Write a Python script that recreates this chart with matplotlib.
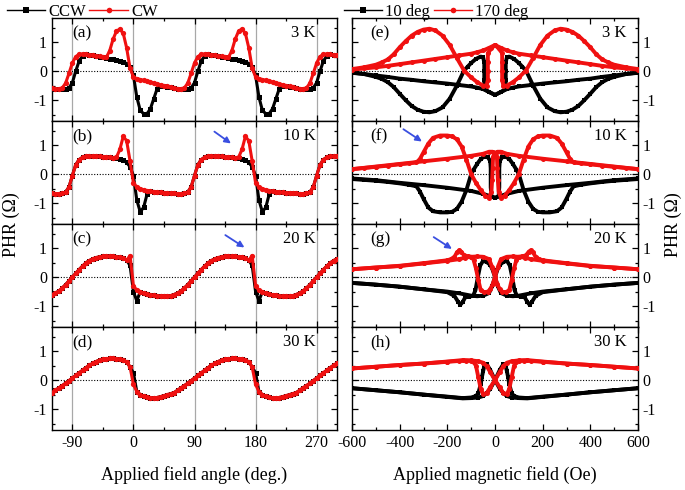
import numpy as np
import matplotlib.pyplot as plt
from matplotlib.ticker import MultipleLocator
from matplotlib.lines import Line2D

plt.rcParams['font.family'] = ['Liberation Serif', 'DejaVu Serif']
plt.rcParams['axes.unicode_minus'] = False

# ---------------- data: angle sweeps (left column) ----------------
angle = np.arange(-120, 305, 5)

ccw_a = [-0.58, -0.60, -0.61, -0.62, -0.62, -0.58, -0.40, 0.00, 0.35, 0.52, 0.58, 0.57, 0.55, 0.53, 0.50, 0.47, 0.45, 0.43,
         0.41, 0.38, 0.35, 0.32, 0.26, 0.14, -0.15, -0.90, -1.35, -1.47, -1.47, -1.30, -0.95, -0.60, -0.50, -0.52, -0.54, -0.56,
         -0.58, -0.60, -0.61, -0.62, -0.62, -0.58, -0.40, 0.00, 0.35, 0.52, 0.58, 0.57, 0.55, 0.53, 0.50, 0.47, 0.45, 0.43,
         0.41, 0.38, 0.35, 0.32, 0.26, 0.14, -0.15, -0.90, -1.35, -1.47, -1.47, -1.30, -0.95, -0.60, -0.50, -0.52, -0.54, -0.56,
         -0.58, -0.60, -0.61, -0.62, -0.62, -0.58, -0.40, 0.00, 0.35, 0.52, 0.58, 0.57, 0.55]
cw_a = [-0.58, -0.60, -0.62, -0.58, -0.42, -0.08, 0.28, 0.50, 0.58, 0.59, 0.58, 0.57, 0.55, 0.53, 0.51, 0.49, 0.47, 0.70,
        1.10, 1.38, 1.45, 1.30, 0.80, 0.10, -0.20, -0.26, -0.29, -0.32, -0.35, -0.38, -0.41, -0.44, -0.47, -0.50, -0.53, -0.56,
        -0.58, -0.60, -0.62, -0.58, -0.42, -0.08, 0.28, 0.50, 0.58, 0.59, 0.58, 0.57, 0.55, 0.53, 0.51, 0.49, 0.47, 0.70,
        1.10, 1.38, 1.45, 1.30, 0.80, 0.10, -0.20, -0.26, -0.29, -0.32, -0.35, -0.38, -0.41, -0.44, -0.47, -0.50, -0.53, -0.56,
        -0.58, -0.60, -0.62, -0.58, -0.42, -0.08, 0.28, 0.50, 0.58, 0.59, 0.58, 0.57, 0.55]

ccw_b = [-0.66, -0.67, -0.67, -0.66, -0.62, -0.45, -0.05, 0.32, 0.50, 0.58, 0.61, 0.62, 0.62, 0.62, 0.61, 0.60, 0.59, 0.58,
         0.56, 0.54, 0.51, 0.47, 0.40, 0.25, -0.05, -0.90, -1.30, -1.15, -0.70, -0.58, -0.60, -0.62, -0.63, -0.64, -0.65, -0.66,
         -0.66, -0.67, -0.67, -0.66, -0.62, -0.45, -0.05, 0.32, 0.50, 0.58, 0.61, 0.62, 0.62, 0.62, 0.61, 0.60, 0.59, 0.58,
         0.56, 0.54, 0.51, 0.47, 0.40, 0.25, -0.05, -0.90, -1.30, -1.15, -0.70, -0.58, -0.60, -0.62, -0.63, -0.64, -0.65, -0.66,
         -0.66, -0.67, -0.67, -0.66, -0.62, -0.45, -0.05, 0.32, 0.50, 0.58, 0.61, 0.62, 0.62]
cw_b = [-0.66, -0.67, -0.67, -0.66, -0.62, -0.45, -0.05, 0.32, 0.50, 0.58, 0.61, 0.62, 0.62, 0.62, 0.61, 0.60, 0.59, 0.58,
        0.57, 0.58, 0.85, 1.30, 1.15, 0.45, -0.30, -0.45, -0.50, -0.54, -0.57, -0.59, -0.60, -0.62, -0.63, -0.64, -0.65, -0.66,
        -0.66, -0.67, -0.67, -0.66, -0.62, -0.45, -0.05, 0.32, 0.50, 0.58, 0.61, 0.62, 0.62, 0.62, 0.61, 0.60, 0.59, 0.58,
        0.57, 0.58, 0.85, 1.30, 1.15, 0.45, -0.30, -0.45, -0.50, -0.54, -0.57, -0.59, -0.60, -0.62, -0.63, -0.64, -0.65, -0.66,
        -0.66, -0.67, -0.67, -0.66, -0.62, -0.45, -0.05, 0.32, 0.50, 0.58, 0.61, 0.62, 0.62]

ccw_c = [-0.60, -0.55, -0.48, -0.38, -0.26, -0.13, 0.00, 0.13, 0.26, 0.38, 0.49, 0.57, 0.63, 0.67, 0.70, 0.71, 0.72, 0.72,
         0.71, 0.70, 0.68, 0.65, 0.58, 0.40, -0.50, -0.82, -0.50, -0.55, -0.58, -0.61, -0.63, -0.65, -0.66, -0.66, -0.66, -0.64,
         -0.60, -0.55, -0.48, -0.38, -0.26, -0.13, 0.00, 0.13, 0.26, 0.38, 0.49, 0.57, 0.63, 0.67, 0.70, 0.71, 0.72, 0.72,
         0.71, 0.70, 0.68, 0.65, 0.58, 0.40, -0.50, -0.82, -0.50, -0.55, -0.58, -0.61, -0.63, -0.65, -0.66, -0.66, -0.66, -0.64,
         -0.60, -0.55, -0.48, -0.38, -0.26, -0.13, 0.00, 0.13, 0.26, 0.38, 0.49, 0.57, 0.63]
cw_c = [-0.60, -0.55, -0.48, -0.38, -0.26, -0.13, 0.00, 0.13, 0.26, 0.38, 0.49, 0.57, 0.63, 0.67, 0.70, 0.71, 0.72, 0.72,
        0.71, 0.70, 0.68, 0.65, 0.58, 0.74, -0.30, -0.45, -0.50, -0.55, -0.58, -0.61, -0.63, -0.65, -0.66, -0.66, -0.66, -0.64,
        -0.60, -0.55, -0.48, -0.38, -0.26, -0.13, 0.00, 0.13, 0.26, 0.38, 0.49, 0.57, 0.63, 0.67, 0.70, 0.71, 0.72, 0.72,
        0.71, 0.70, 0.68, 0.65, 0.58, 0.74, -0.30, -0.45, -0.50, -0.55, -0.58, -0.61, -0.63, -0.65, -0.66, -0.66, -0.66, -0.64,
        -0.60, -0.55, -0.48, -0.38, -0.26, -0.13, 0.00, 0.13, 0.26, 0.38, 0.49, 0.57, 0.63]

ccw_d = [-0.43, -0.35, -0.27, -0.19, -0.11, -0.02, 0.07, 0.16, 0.25, 0.34, 0.43, 0.51, 0.58, 0.64, 0.69, 0.72, 0.74, 0.75,
         0.75, 0.74, 0.72, 0.69, 0.63, 0.45, 0.25, -0.40, -0.50, -0.56, -0.59, -0.61, -0.61, -0.60, -0.57, -0.54, -0.50, -0.47,
         -0.43, -0.35, -0.27, -0.19, -0.11, -0.02, 0.07, 0.16, 0.25, 0.34, 0.43, 0.51, 0.58, 0.64, 0.69, 0.72, 0.74, 0.75,
         0.75, 0.74, 0.72, 0.69, 0.63, 0.45, 0.25, -0.40, -0.50, -0.56, -0.59, -0.61, -0.61, -0.60, -0.57, -0.54, -0.50, -0.47,
         -0.43, -0.35, -0.27, -0.19, -0.11, -0.02, 0.07, 0.16, 0.25, 0.34, 0.43, 0.51, 0.58]
cw_d = [-0.43, -0.35, -0.27, -0.19, -0.11, -0.02, 0.07, 0.16, 0.25, 0.34, 0.43, 0.51, 0.58, 0.64, 0.69, 0.72, 0.74, 0.75,
        0.75, 0.74, 0.72, 0.69, 0.63, 0.45, -0.15, -0.40, -0.50, -0.56, -0.59, -0.61, -0.61, -0.60, -0.57, -0.54, -0.50, -0.47,
        -0.43, -0.35, -0.27, -0.19, -0.11, -0.02, 0.07, 0.16, 0.25, 0.34, 0.43, 0.51, 0.58, 0.64, 0.69, 0.72, 0.74, 0.75,
        0.75, 0.74, 0.72, 0.69, 0.63, 0.45, -0.15, -0.40, -0.50, -0.56, -0.59, -0.61, -0.61, -0.60, -0.57, -0.54, -0.50, -0.47,
        -0.43, -0.35, -0.27, -0.19, -0.11, -0.02, 0.07, 0.16, 0.25, 0.34, 0.43, 0.51, 0.58]

# ---------------- data: field sweeps (right column), sweep 600 -> -600 ----------------
# the return sweep (-600 -> 600) is the same branch seen from the other side
h_e10 = [600, 550, 500, 450, 400, 350, 300, 250, 200, 150, 100, 75, 50, 25, 0, -25, -45, -45, -45, -45, -50, -60, -80,
         -100, -115, -130, -160, -190, -220, -250, -275, -300, -325, -350, -375, -400, -425, -450, -475, -500, -550, -600]
r_e10 = [-0.05, -0.10, -0.15, -0.20, -0.26, -0.30, -0.35, -0.39, -0.43, -0.48, -0.53, -0.57, -0.62, -0.72, -0.82, -0.72,
         -0.62, -0.30, 0.00, 0.30, 0.48, 0.50, 0.42, 0.28, 0.15, 0.02, -0.50, -0.95, -1.25, -1.38, -1.42, -1.40, -1.33,
         -1.20, -1.00, -0.78, -0.55, -0.38, -0.27, -0.20, -0.10, -0.06]
h_e170 = [600, 550, 500, 450, 400, 350, 300, 250, 200, 150, 100, 75, 50, 25, 0, -15, -30, -30, -30, -30, -35, -50, -75,
          -100, -130, -160, -190, -220, -250, -275, -300, -325, -350, -375, -400, -425, -450, -475, -500, -550, -600]
r_e170 = [0.05, 0.09, 0.13, 0.18, 0.24, 0.30, 0.36, 0.42, 0.48, 0.54, 0.60, 0.65, 0.71, 0.80, 0.90, 0.78, 0.62, 0.30,
          0.00, -0.30, -0.50, -0.50, -0.38, -0.22, 0.02, 0.45, 0.90, 1.22, 1.40, 1.46, 1.43, 1.35, 1.22, 1.03, 0.82, 0.58,
          0.40, 0.30, 0.22, 0.13, 0.07]

h_f10 = [600, 500, 400, 300, 200, 100, 50, 25, 0, -15, -18, -18, -18, -20, -30, -45, -60, -75, -90, -100, -120, -140,
         -160, -180, -200, -230, -260, -280, -300, -315, -330, -360, -400, -450, -500, -550, -600]
r_f10 = [-0.15, -0.21, -0.30, -0.38, -0.47, -0.58, -0.68, -0.75, -0.82, -0.76, -0.45, -0.10, 0.20, 0.45, 0.58, 0.60, 0.52,
         0.35, 0.15, 0.00, -0.55, -0.95, -1.20, -1.30, -1.32, -1.32, -1.28, -1.15, -0.85, -0.60, -0.42, -0.37, -0.32,
         -0.27, -0.23, -0.20, -0.17]
h_f170 = [600, 500, 400, 300, 200, 100, 50, 25, 10, 0, -8, -10, -12, -15, -25, -40, -60, -80, -100, -120, -140, -160,
          -180, -200, -230, -260, -280, -300, -315, -330, -360, -400, -450, -500, -550, -600]
r_f170 = [0.17, 0.26, 0.35, 0.44, 0.53, 0.63, 0.70, 0.77, 0.77, 0.72, 0.60, 0.20, -0.20, -0.60, -0.82, -0.75, -0.55,
          -0.30, 0.00, 0.50, 0.95, 1.20, 1.30, 1.33, 1.33, 1.25, 1.05, 0.75, 0.52, 0.40, 0.37, 0.34, 0.29, 0.25, 0.21, 0.17]

h_g10 = [600, 500, 400, 300, 200, 150, 125, 100, 75, 50, 25, 12, 0, -10, -20, -35, -50, -62, -72, -82, -92, -110, -125,
         -135, -145, -155, -170, -200, -300, -400, -500, -600]
r_g10 = [-0.20, -0.26, -0.33, -0.42, -0.50, -0.56, -0.60, -0.64, -0.66, -0.64, -0.55, -0.32, 0.00, 0.25, 0.42, 0.52,
         0.56, 0.40, 0.00, -0.45, -0.65, -0.67, -0.70, -0.85, -0.95, -0.85, -0.65, -0.52, -0.42, -0.33, -0.26, -0.20]
h_g170 = [600, 500, 400, 300, 200, 150, 125, 100, 75, 50, 25, 12, 0, -10, -20, -30, -45, -60, -70, -80, -90, -100, -115,
          -130, -142, -150, -160, -170, -185, -200, -300, -400, -500, -600]
r_g170 = [0.27, 0.33, 0.38, 0.47, 0.56, 0.62, 0.67, 0.70, 0.71, 0.70, 0.62, 0.35, 0.00, -0.25, -0.42, -0.50, -0.52,
          -0.45, -0.10, 0.30, 0.60, 0.70, 0.72, 0.75, 0.88, 0.92, 0.85, 0.70, 0.62, 0.58, 0.48, 0.39, 0.33, 0.27]

h_h10 = [600, 500, 400, 300, 200, 135, 100, 80, 70, 60, 55, 50, 45, 35, 20, 0, -20, -35, -50, -70, -100, -135, -200,
         -300, -400, -500, -600]
r_h10 = [-0.28, -0.35, -0.42, -0.50, -0.57, -0.62, -0.60, -0.55, -0.45, -0.15, 0.10, 0.30, 0.48, 0.55, 0.35, 0.00,
         -0.30, -0.45, -0.55, -0.60, -0.62, -0.63, -0.58, -0.50, -0.42, -0.35, -0.28]
h_h170 = [600, 500, 400, 300, 200, 150, 120, 100, 90, 80, 70, 60, 50, 35, 20, 0, -20, -35, -50, -70, -100, -135, -200,
          -300, -400, -500, -600]
r_h170 = [0.40, 0.46, 0.52, 0.57, 0.63, 0.66, 0.67, 0.66, 0.62, 0.50, 0.10, -0.30, -0.48, -0.45, -0.25, 0.00, 0.28,
          0.48, 0.60, 0.65, 0.68, 0.69, 0.64, 0.57, 0.52, 0.46, 0.40]

left_tags = ['(a)', '(b)', '(c)', '(d)']
right_tags = ['(e)', '(f)', '(g)', '(h)']
temps = ['3 K', '10 K', '20 K', '30 K']

left_data = [(ccw_a, cw_a), (ccw_b, cw_b), (ccw_c, cw_c), (ccw_d, cw_d)]
right_data = [(h_e10, r_e10, h_e170, r_e170), (h_f10, r_f10, h_f170, r_f170),
              (h_g10, r_g10, h_g170, r_g170), (h_h10, r_h10, h_h170, r_h170)]

# arrows: (panel index, tail, head) in data coordinates
left_arrows = [(1, (116, 1.52), (147, 1.0)), (2, (132, 1.5), (167, 0.97))]
right_arrows = [(1, (-394, 1.6), (-297, 1.07)), (2, (-267, 1.43), (-171, 0.92))]

BLACK = 'black'
RED = '#f01010'
BLUE = '#3a4fe0'
FS = 11.5

fig = plt.figure(figsize=(6.85, 4.9), dpi=100)
W, H = 685.0, 490.0
top_px, pan_px = 18.0, 103.0

axes_l, axes_r = [], []
for i in range(4):
    y0 = (H - top_px - pan_px * (i + 1)) / H
    axl = fig.add_axes([52 / W, y0, 285 / W, pan_px / H])
    axr = fig.add_axes([352 / W, y0, 286 / W, pan_px / H])
    axes_l.append(axl)
    axes_r.append(axr)

for i, ax in enumerate(axes_l):
    ccw, cw = left_data[i]
    for v in [-90, 0, 90, 180, 270]:
        ax.axvline(v, color='#a8a8a8', lw=0.9, zorder=0)
    ax.axhline(0, color='k', ls=(0, (1, 1.5)), lw=0.8, zorder=1)
    ax.plot(angle, ccw, color=BLACK, lw=2.2, marker='s', ms=3.6, mew=0, zorder=2)
    ax.plot(angle, cw, color=RED, lw=2.2, marker='o', ms=3.8, mew=0, zorder=3)
    ax.set_xlim(-120, 300)
    ax.set_ylim(-1.72, 1.83)
    ax.xaxis.set_major_locator(MultipleLocator(90))
    ax.xaxis.set_minor_locator(MultipleLocator(45))
    ax.yaxis.set_major_locator(MultipleLocator(1))
    ax.yaxis.set_minor_locator(MultipleLocator(0.5))
    ax.tick_params(which='both', direction='in', top=True, right=True, labelsize=FS)
    ax.tick_params(which='major', length=4.5, width=0.9)
    ax.tick_params(which='minor', length=2.5, width=0.9)
    if i < 3:
        ax.tick_params(labelbottom=False)
    ax.text(0.07, 0.85, left_tags[i], transform=ax.transAxes, fontsize=FS + 1, va='center', ha='left')
    ax.text(0.925, 0.85, temps[i], transform=ax.transAxes, fontsize=FS + 0.5, va='center', ha='right')

for i, ax in enumerate(axes_r):
    h10, r10, h170, r170 = right_data[i]
    h10 = np.array(h10)
    h170 = np.array(h170)
    ax.axhline(0, color='k', ls=(0, (1, 1.5)), lw=0.8, zorder=1)
    ax.plot(h10, r10, color=BLACK, lw=2.8, marker='s', ms=3.4, mew=0, zorder=2)
    ax.plot(-h10, r10, color=BLACK, lw=2.8, marker='s', ms=3.4, mew=0, zorder=2)
    ax.plot(h170, r170, color=RED, lw=2.8, marker='o', ms=3.6, mew=0, zorder=3)
    ax.plot(-h170, r170, color=RED, lw=2.8, marker='o', ms=3.6, mew=0, zorder=3)
    ax.set_xlim(-600, 600)
    ax.set_ylim(-1.72, 1.83)
    ax.xaxis.set_major_locator(MultipleLocator(200))
    ax.xaxis.set_minor_locator(MultipleLocator(100))
    ax.yaxis.set_major_locator(MultipleLocator(1))
    ax.yaxis.set_minor_locator(MultipleLocator(0.5))
    ax.tick_params(which='both', direction='in', top=True, right=True, labelsize=FS,
                   labelleft=False, labelright=True)
    ax.tick_params(which='major', length=4.5, width=0.9)
    ax.tick_params(which='minor', length=2.5, width=0.9)
    if i < 3:
        ax.tick_params(labelbottom=False)
    ax.text(0.065, 0.85, right_tags[i], transform=ax.transAxes, fontsize=FS + 1, va='center', ha='left')
    ax.text(0.96, 0.85, temps[i], transform=ax.transAxes, fontsize=FS + 0.5, va='center', ha='right')

for i, tail, head in left_arrows:
    axes_l[i].annotate('', xy=head, xytext=tail,
                       arrowprops=dict(arrowstyle='-|>', color=BLUE, lw=1.3, mutation_scale=9))
for i, tail, head in right_arrows:
    axes_r[i].annotate('', xy=head, xytext=tail,
                       arrowprops=dict(arrowstyle='-|>', color=BLUE, lw=1.3, mutation_scale=9))

for ax in axes_l + axes_r:
    for s in ax.spines.values():
        s.set_linewidth(1.0)

# legends
hk = Line2D([], [], color=BLACK, lw=1.0, marker='s', ms=4, mew=0)
hr = Line2D([], [], color=RED, lw=1.0, marker='o', ms=4, mew=0)
fig.legend([hk, hr], ['CCW', 'CW'], loc='upper left', bbox_to_anchor=(0.006, 0.997), ncol=2, frameon=False,
           fontsize=FS + 0.5, handlelength=2.3, handletextpad=0.2, columnspacing=0.2, borderpad=0.15, borderaxespad=0)
fig.legend([hk, hr], ['10 deg', '170 deg'], loc='upper left', bbox_to_anchor=(0.498, 0.997), ncol=2, frameon=False,
           fontsize=FS + 0.5, handlelength=2.3, handletextpad=0.2, columnspacing=0.2, borderpad=0.15, borderaxespad=0)

fig.text(194.5 / W, 1 - 475 / H, 'Applied field angle (deg.)', ha='center', va='center', fontsize=FS + 1.5)
fig.text(495 / W, 1 - 475 / H, 'Applied magnetic field (Oe)', ha='center', va='center', fontsize=FS + 1.5)
fig.text(11 / W, 1 - 225 / H, 'PHR (Ω)', rotation=90, ha='center', va='center', fontsize=FS + 1.5)
fig.text(673 / W, 1 - 225 / H, 'PHR (Ω)', rotation=90, ha='center', va='center', fontsize=FS + 1.5)

fig.savefig('out.png', dpi=100)
